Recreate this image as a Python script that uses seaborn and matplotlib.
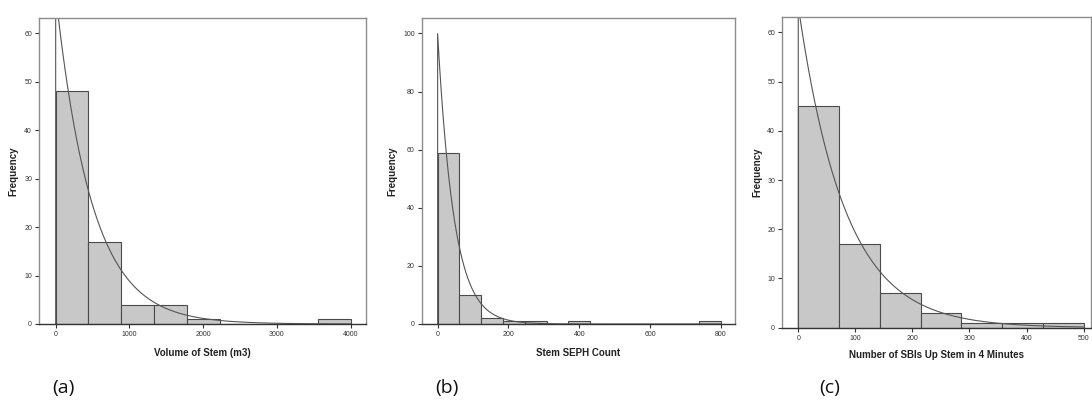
import numpy as np
import pandas as pd
import matplotlib
matplotlib.use("Agg")
import matplotlib.pyplot as plt
import seaborn as sns

sns.set_style("white")
plt.rcParams['font.family'] = ['Liberation Sans Narrow', 'Liberation Sans', 'DejaVu Sans']

# ---- data ----
vol_edges = np.linspace(0, 4000, 10)
vol_counts = [48, 17, 4, 4, 1, 0, 0, 0, 1]
vol_mean = 490.0

seph_edges = np.linspace(0, 800, 14)
seph_counts = [59, 10, 2, 1, 1, 0, 1, 0, 0, 0, 0, 0, 1]
seph_mean = 46.2

sbi_edges = np.linspace(0, 500, 8)
sbi_counts = [45, 17, 7, 3, 1, 1, 1]
sbi_mean = 82.0

x_labels = ["Volume of Stem (m3)", "Stem SEPH Count", "Number of SBIs Up Stem in 4 Minutes"]
panel_tags = ["(a)", "(b)", "(c)"]
x_ticks = [[0, 1000, 2000, 3000, 4000], [0, 200, 400, 600, 800], [0, 100, 200, 300, 400, 500]]
y_ticks = [[0, 10, 20, 30, 40, 50, 60], [0, 20, 40, 60, 80, 100], [0, 10, 20, 30, 40, 50, 60]]

panels = [
    dict(edges=vol_edges, counts=vol_counts, mean=vol_mean, xlim=(-226, 4207), ylim=(0, 63.1),
         rect=[39 / 1092, 76 / 400, 327 / 1092, 306 / 400], ylab_x=-0.064, xlab_y=-0.078, tag_x=63),
    dict(edges=seph_edges, counts=seph_counts, mean=seph_mean, xlim=(-45, 840), ylim=(0, 105.3),
         rect=[421.7 / 1092, 76 / 400, 313.3 / 1092, 306 / 400], ylab_x=-0.078, xlab_y=-0.078, tag_x=447),
    dict(edges=sbi_edges, counts=sbi_counts, mean=sbi_mean, xlim=(-28.5, 513), ylim=(0, 63.2),
         rect=[782 / 1092, 72.3 / 400, 309 / 1092, 311 / 400], ylab_x=-0.064, xlab_y=-0.072, tag_x=830),
]

fig = plt.figure(figsize=(10.92, 4.0), dpi=100)
fig.patch.set_facecolor("white")

for i, p in enumerate(panels):
    ax = fig.add_axes(p["rect"])
    edges = np.asarray(p["edges"])
    counts = np.asarray(p["counts"], dtype=float)
    centers = (edges[:-1] + edges[1:]) / 2
    df = pd.DataFrame({"value": centers, "count": counts})
    sns.histplot(data=df, x="value", weights="count", bins=list(edges), ax=ax,
                 color="#c8c8c8", edgecolor="#4a4a4a", linewidth=0.8, alpha=1.0)
    # fitted exponential curve
    n = counts.sum()
    w = edges[1] - edges[0]
    xs = np.concatenate([[-1e-9 * edges[-1]], np.linspace(0, edges[-1], 600)])
    ys = np.where(xs >= 0, n * w / p["mean"] * np.exp(-np.clip(xs, 0, None) / p["mean"]), 0.0)
    ax.plot(xs, ys, color="#555555", linewidth=0.8, clip_on=True)

    ax.set_xlim(*p["xlim"])
    ax.set_ylim(*p["ylim"])
    ax.set_xticks(x_ticks[i])
    ax.set_yticks(y_ticks[i])
    ax.tick_params(axis="both", direction="out", length=3, width=0.8, colors="#333333",
                   labelsize=5, pad=2, bottom=True, left=True)
    for s in ["top", "right", "left"]:
        ax.spines[s].set_color("#8c8c8c")
        ax.spines[s].set_linewidth(1.0)
    ax.spines["bottom"].set_color("#333333")
    ax.spines["bottom"].set_linewidth(1.0)

    ax.set_ylabel("Frequency", fontsize=7, fontweight="bold", color="#222222")
    ax.yaxis.set_label_coords(p["ylab_x"], 0.5)
    ax.set_xlabel(x_labels[i], fontsize=7, fontweight="bold", color="#222222")
    ax.xaxis.set_label_coords(0.5, p["xlab_y"])
    ax.xaxis.label.set_va("top")

    fig.text(p["tag_x"] / 1092, 1 - 388 / 400, panel_tags[i], ha="center", va="center",
             fontsize=14, family=["Open Sans", "DejaVu Sans"], color="#111111")

fig.savefig("out.png", dpi=100, facecolor="white")
